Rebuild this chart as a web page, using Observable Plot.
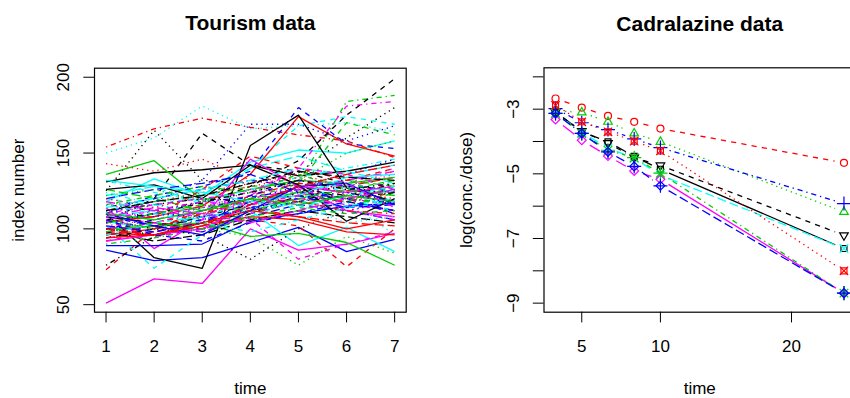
<!DOCTYPE html>
<html><head><meta charset="utf-8">
<script src="https://cdn.jsdelivr.net/npm/d3@7"></script>
<script src="https://cdn.jsdelivr.net/npm/@observablehq/plot@0.6"></script>
<style>
html,body{margin:0;padding:0;background:#fff;overflow:hidden;width:850px;height:398px;}
#wrap{position:relative;width:850px;height:398px;overflow:hidden;background:#fff;}
#left,#right{position:absolute;top:0;}
#left{left:0;width:425px;}
#right{left:425px;width:432px;}
</style></head><body><div id="wrap"><div id="left"></div><div id="right"></div></div>
<script>
// ---------- Tourism data (index number by time) ----------
const tourismTime = [1,2,3,4,5,6,7];
const tourismSet1 = [
  [131,137,139,142,135,138,144],
  [73,100,112,118,122,125,128],
  [118,112,106,114,128,124,132],
  [104,110,118,121,126,120,117],
  [122,128,116,140,148,138,130],
  [51,67,64,100,86,90,97],
  [105,120,163,142,138,130,124],
  [112,118,124,130,136,128,138],
  [112,118,122,128,130,184,188],
  [96,102,98,108,116,112,106],
  [118,133,122,144,152,150,158],
  [108,104,112,116,124,120,116],
  [125,165,132,130,137,160,180],
  [154,166,173,167,162,158,147],
  [100,96,104,110,118,114,124],
  [86,79,81,91,101,85,93],
  [120,115,122,140,168,174,169],
  [116,110,118,126,132,130,140],
  [76,95,102,112,118,122,125],
  [98,102,108,122,130,128,134],
  [136,145,119,126,132,130,134],
  [110,122,128,138,180,156,153],
  [150,160,181,166,168,170,164],
  [110,108,115,122,140,181,184],
  [108,104,100,110,122,118,112],
  [105,108,115,136,174,156,148],
  [106,110,114,120,130,170,162],
  [110,118,132,169,169,158,168],
  [132,124,118,126,134,140,146],
  [94,98,106,114,120,116,112]
];
const tourismSet2 = [
  [110,81,74,155,175,127,118],
  [92,98,104,106,102,75,100],
  [102,96,100,95,76,95,84],
  [114,120,126,132,128,124,118],
  [108,112,104,116,124,130,124],
  [114,87,106,146,128,112,108],
  [106,110,117,128,145,175,199],
  [143,138,146,132,128,124,120],
  [90,94,100,106,112,120,116],
  [120,126,130,136,124,120,110],
  [105,100,108,112,89,101,85],
  [105,95,100,107,80,90,98],
  [106,100,96,80,100,112,118],
  [100,104,110,116,120,118,124],
  [126,120,112,118,124,132,128],
  [89,89,90,105,110,115,117],
  [102,74,96,112,118,115,120],
  [98,104,112,126,124,128,136],
  [112,116,120,118,126,122,130],
  [96,100,104,114,108,104,102],
  [100,102,104,95,97,91,76],
  [100,106,112,122,132,128,126],
  [108,116,112,120,110,118,96],
  [100,104,98,110,118,112,106],
  [98,92,96,106,112,108,104],
  [97,96,102,108,106,98,96],
  [116,122,128,124,136,126,132],
  [112,108,114,120,128,136,146],
  [124,116,110,108,120,128,110],
  [118,112,108,120,126,132,138]
];
const tourismSet3 = [
  [126,129,120,142,129,105,120],
  [104,108,126,148,140,132,140],
  [122,126,118,124,132,150,158],
  [108,102,106,114,120,126,124],
  [114,120,126,132,140,136,142],
  [92,96,100,116,128,124,128],
  [94,100,108,116,128,120,124],
  [120,114,122,128,134,122,118],
  [106,100,110,120,124,118,128],
  [102,98,104,118,122,114,116],
  [132,128,124,118,122,134,136],
  [110,116,120,124,140,136,126],
  [100,96,104,112,124,128,122],
  [96,100,110,120,118,112,110],
  [104,110,116,112,120,126,122],
  [110,102,96,112,128,130,116],
  [96,104,108,118,114,122,128],
  [102,106,114,118,126,112,118],
  [116,112,118,124,132,126,130],
  [100,96,102,116,128,136,142],
  [110,106,112,120,116,122,118],
  [106,96,92,104,110,118,112],
  [112,118,120,114,116,104,108],
  [106,112,118,116,122,130,114],
  [112,118,122,130,138,134,132],
  [94,96,104,112,108,100,106],
  [98,104,100,108,114,110,112],
  [104,110,108,112,118,124,116],
  [116,110,104,98,106,114,118],
  [108,114,110,104,112,120,126]
];
const tourismXTicks = [1,2,3,4,5,6,7];
const tourismYTicks = [50,100,150,200];

// ---------- Cadralazine data (log(conc./dose) by time) ----------
const cadTime = [2,4,6,8,10,24];
const cadPatient1  = [-3.08,-3.70,-4.01,-4.46,-4.86,-7.31];
const cadPatient2  = [-2.67,-2.95,-3.21,-3.39,-3.60,-4.66];
const cadPatient3  = [-3.05,-3.10,-3.39,-3.75,-4.01,-6.18];
const cadPatient4  = [-2.98,-3.42,-3.63,-3.92,-4.19,-5.92];
const cadPatient5  = [-3.12,-3.72,-4.20,-4.52,-5.04,-7.31];
const cadPatient6  = [-3.32,-3.96,-4.45,-4.91,-5.17,-8.69];
const cadPatient7  = [-3.10,-3.68,-4.05,-4.50,-4.74,-6.90];
const cadPatient8  = [-2.88,-3.39,-3.70,-3.99,-4.29,-8.00];
const cadPatient9  = [-3.13,-3.75,-4.27,-4.50,-4.98,-8.69];
const cadPatient10 = [-3.13,-3.75,-4.32,-4.77,-5.37,-8.69];
const cadSeries = [cadPatient1,cadPatient2,cadPatient3,cadPatient4,cadPatient5,
                   cadPatient6,cadPatient7,cadPatient8,cadPatient9,cadPatient10];
const cadXTicks = [4,10,20];
const cadXTickLabels = ["5","10","20"];
const cadYTicks = [-2,-3,-4,-5,-6,-7,-8,-9];
const cadYLabelled = [-3,-5,-7,-9];

// ---------- styles (R default matplot cycles) ----------
const palette = ["#000000","#FF0000","#00CD00","#0000FF","#00FFFF","#FF00FF"];
const dashes = [undefined,"5.2,5.2","1.3,3.9","1.3,3.9,5.2,3.9","9.1,3.9"];
const FONT = '"Liberation Sans", Arial, Helvetica, sans-serif';
const LW = 1.3;
const symbolSets = [
  [{s:"square2",r:3.8}],
  [{s:"circle",r:3.5}],
  [{s:"triangle2",r:4.1}],
  [{s:"plus",r:4.6}],
  [{s:"times",r:4.0}],
  [{s:"diamond2",r:4.0}],
  [{s:"triangle2",r:4.1,rot:180}],
  [{s:"square2",r:3.8},{s:"times",r:3.9}],
  [{s:"plus",r:4.6},{s:"times",r:4.0}],
  [{s:"diamond2",r:4.0},{s:"plus",r:4.6}]
];

// ---------- left panel ----------
const W1 = 425, H = 398;
const L = {left: 94, right: 19.3, top: 67.7, bottom: 86.3};
const tourismAll = [...tourismSet1, ...tourismSet2, ...tourismSet3];
const leftMarks = [];
tourismAll.forEach((vals, i) => {
  const pts = tourismTime.map((t, j) => ({t, v: vals[j]}));
  leftMarks.push(Plot.line(pts, {x: "t", y: "v", stroke: palette[i % 6], strokeWidth: LW,
    strokeDasharray: dashes[i % 5], strokeLinecap: "butt"}));
});

const axisCommon = {tickSize: 10.7, label: null, stroke: "black", fill: "black"};

const leftPlot = Plot.plot({
  width: W1, height: H,
  marginLeft: L.left, marginRight: L.right, marginTop: L.top, marginBottom: L.bottom,
  x: {domain: [0.76, 7.24]},
  y: {domain: [45.04, 205.96]},
  style: {fontFamily: FONT, fontSize: "17px", background: "white", maxWidth: "none", color: "black"},
  marks: [
    ...leftMarks,
    Plot.frame({stroke: "black", strokeWidth: 1.2}),
    Plot.axisX({...axisCommon, ticks: tourismXTicks, tickFormat: d => String(d), tickPadding: 16.9}),
    Plot.axisY({...axisCommon, ticks: tourismYTicks, tickFormat: d => String(d), tickPadding: 14.8,
      tickRotate: -90, textAnchor: "middle", lineAnchor: "bottom"}),
    Plot.text(["Tourism data"], {text: d => d, frameAnchor: "top", dy: -37.7, lineAnchor: "bottom",
      fontSize: 21, fontWeight: "bold", fill: "black"}),
    Plot.text(["time"], {text: d => d, frameAnchor: "bottom", dy: 81.5, lineAnchor: "bottom", fontSize: 17, fill: "black"}),
    Plot.text(["index number"], {text: d => d, frameAnchor: "left", dx: -70.7, rotate: -90,
      textAnchor: "middle", lineAnchor: "bottom", fontSize: 17, fill: "black"})
  ]
});
document.getElementById("left").appendChild(leftPlot);

// ---------- right panel ----------
const W2 = 432;
const R = {left: 118.5, right: 2, top: 67.3, bottom: 86.3};
const xDom = [1.12, 24.88], yDom = [-9.28, -1.72];
const sx = Plot.scale({x: {domain: xDom, range: [R.left, W2 - R.right]}});
const sy = Plot.scale({y: {domain: yDom, range: [H - R.bottom, R.top]}});
const GAP = 9.5;

const rightMarks = [];
cadSeries.forEach((vals, k) => {
  const color = palette[k % 6];
  const dash = dashes[k % 5];
  const segs = [];
  for (let j = 0; j + 1 < cadTime.length; j++) {
    const x0 = sx.apply(cadTime[j]), y0 = sy.apply(vals[j]);
    const x1 = sx.apply(cadTime[j + 1]), y1 = sy.apply(vals[j + 1]);
    const len = Math.hypot(x1 - x0, y1 - y0);
    if (len <= 2 * GAP) continue;
    const ux = (x1 - x0) / len, uy = (y1 - y0) / len;
    segs.push({
      x1: sx.invert(x0 + ux * GAP), y1: sy.invert(y0 + uy * GAP),
      x2: sx.invert(x1 - ux * GAP), y2: sy.invert(y1 - uy * GAP)
    });
  }
  rightMarks.push(Plot.link(segs, {x1: "x1", y1: "y1", x2: "x2", y2: "y2", stroke: color,
    strokeWidth: LW, strokeDasharray: dash, strokeLinecap: "butt"}));
  const pts = cadTime.map((t, j) => ({t, v: vals[j]}));
  symbolSets[k].forEach(sym => {
    rightMarks.push(Plot.dot(pts, {x: "t", y: "v", symbol: sym.s, r: sym.r, rotate: sym.rot || 0,
      stroke: color, fill: "none", strokeWidth: 1.2}));
  });
});

const rightPlot = Plot.plot({
  width: W2, height: H,
  marginLeft: R.left, marginRight: R.right, marginTop: R.top, marginBottom: R.bottom,
  x: {domain: xDom},
  y: {domain: yDom},
  style: {fontFamily: FONT, fontSize: "17px", background: "white", maxWidth: "none", color: "black"},
  marks: [
    ...rightMarks,
    Plot.frame({stroke: "black", strokeWidth: 1.2}),
    Plot.axisX({...axisCommon, ticks: cadXTicks, tickFormat: d => cadXTickLabels[cadXTicks.indexOf(d)], tickPadding: 16.9}),
    Plot.axisY({...axisCommon, ticks: cadYTicks,
      tickFormat: d => cadYLabelled.includes(d) ? "\u2212" + Math.abs(d) : "",
      tickPadding: 14.8, tickRotate: -90, textAnchor: "middle", lineAnchor: "bottom"}),
    Plot.text(["Cadralazine data"], {text: d => d, frameAnchor: "top", dy: -37.3, lineAnchor: "bottom",
      fontSize: 21, fontWeight: "bold", fill: "black"}),
    Plot.text(["time"], {text: d => d, frameAnchor: "bottom", dy: 81.5, lineAnchor: "bottom", fontSize: 17, fill: "black"}),
    Plot.text(["log(conc./dose)"], {text: d => d, frameAnchor: "left", dx: -72, rotate: -90,
      textAnchor: "middle", lineAnchor: "bottom", fontSize: 17, fill: "black"})
  ]
});
document.getElementById("right").appendChild(rightPlot);
</script>
</body></html>
